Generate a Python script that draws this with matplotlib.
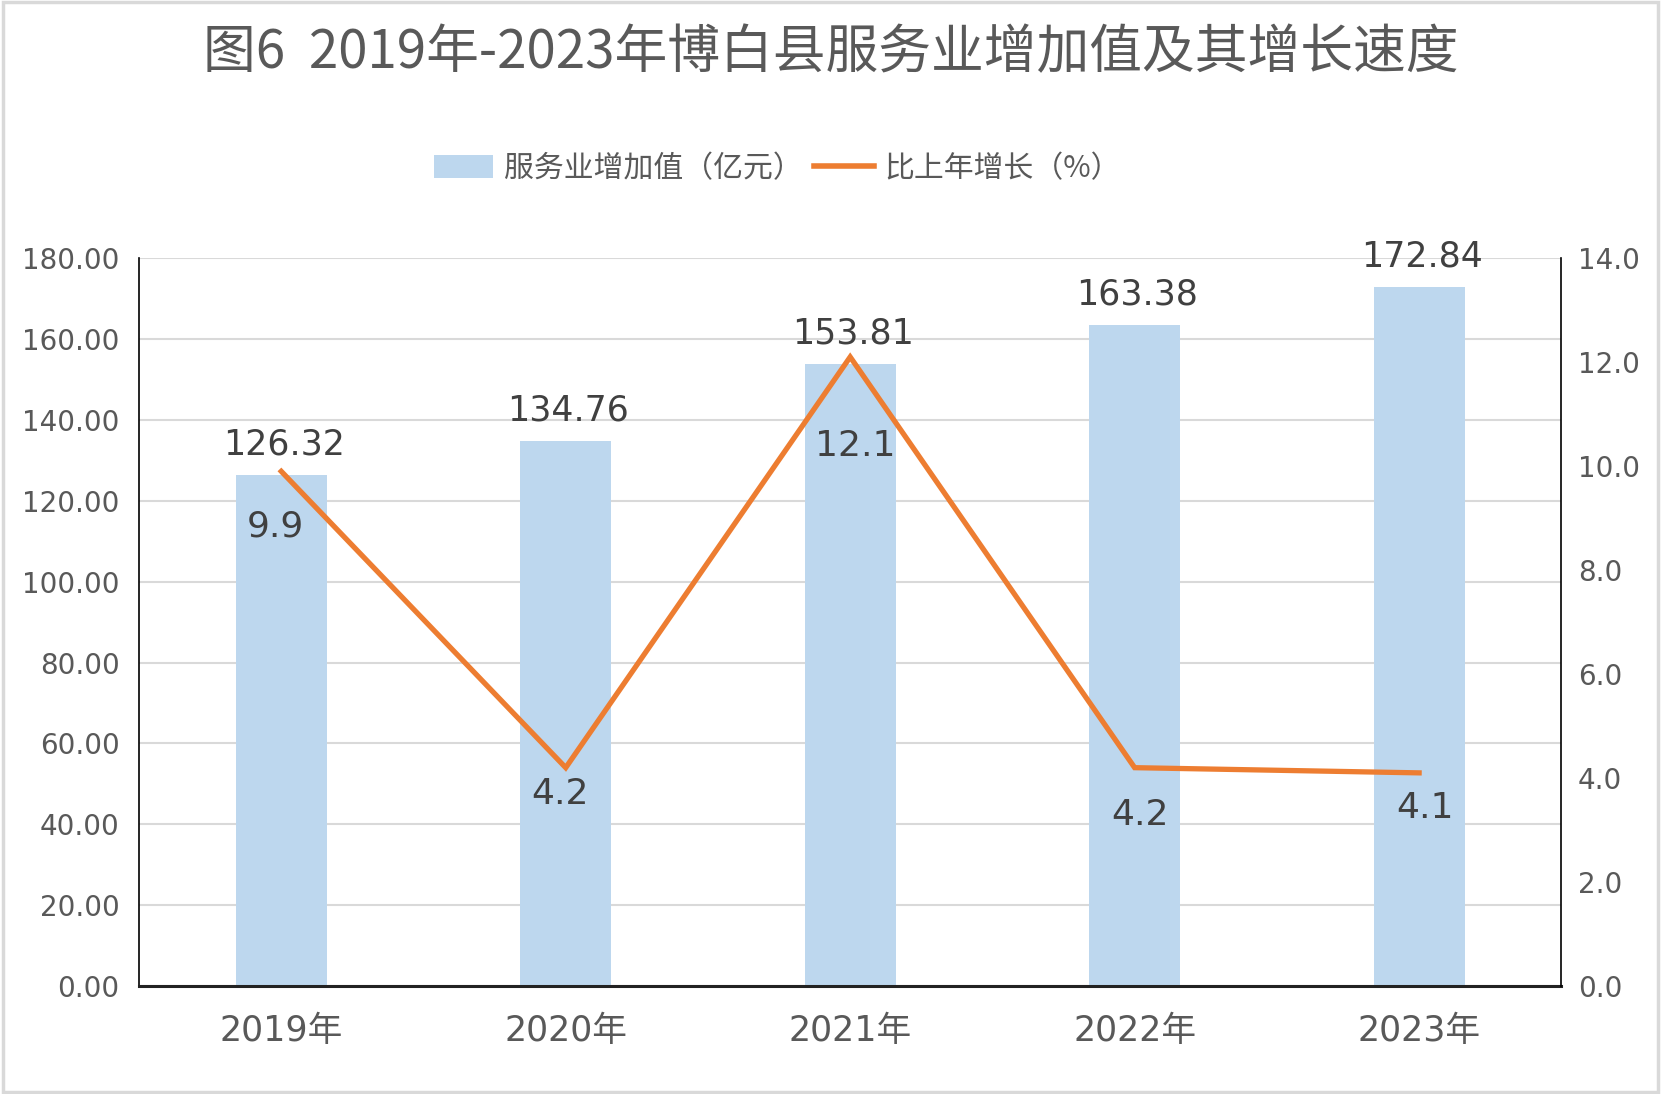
import matplotlib
matplotlib.use("Agg")
import matplotlib.pyplot as plt
from matplotlib.patches import Rectangle, Patch
from matplotlib.lines import Line2D
from matplotlib.ticker import FormatStrFormatter, MultipleLocator

plt.rcParams['font.family'] = ['DejaVu Sans', 'Noto Sans CJK SC']

years = ["2019年", "2020年", "2021年", "2022年", "2023年"]
value_added = [126.32, 134.76, 153.81, 163.38, 172.84]
growth = [9.9, 4.2, 12.1, 4.2, 4.1]
title = "图6  2019年-2023年博白县服务业增加值及其增长速度"
bar_name = "服务业增加值（亿元）"
line_name = "比上年增长（%）"

# label offsets (points) for the growth labels, styling only
growth_label_offsets = [(-4, -40), (-4, -19), (4, -64), (4, -34), (4, -25)]

BAR_C = "#BDD7EE"
LINE_C = "#ED7D31"
TXT = "#404040"
TICK = "#595959"

fig = plt.figure(figsize=(16.61, 10.94), dpi=100)
fig.patch.set_facecolor("white")
fig.add_artist(Rectangle((0.002, 0.002), 0.996, 0.996, transform=fig.transFigure,
                         fill=False, edgecolor="#D9D9D9", linewidth=2.5))

ax = fig.add_axes([0.0837, 0.0987, 0.8563, 0.6653])
x = list(range(len(years)))
ax.bar(x, value_added, width=0.32, color=BAR_C, zorder=2)
ax.set_xlim(-0.5, len(years) - 0.5)
ax.set_ylim(0, 180)
ax.yaxis.set_major_locator(MultipleLocator(20))
ax.yaxis.set_major_formatter(FormatStrFormatter("%.2f"))
ax.grid(axis="y", color="#D9D9D9", linewidth=1.5, zorder=0)
ax.set_axisbelow(True)
ax.set_xticks(x)
ax.set_xticklabels(years, fontsize=25, color=TICK)
ax.tick_params(axis="x", length=0, pad=20)
ax.tick_params(axis="y", labelsize=20, colors=TICK, length=0, pad=14)
ax.spines["top"].set_visible(False)
ax.spines["left"].set_color("black")
ax.spines["left"].set_linewidth(1.2)
ax.spines["right"].set_visible(False)
ax.spines["bottom"].set_color("#222222")
ax.spines["bottom"].set_linewidth(2.2)

for xi, v in zip(x, value_added):
    ax.annotate(f"{v:.2f}", (xi, v), xytext=(2, 22), textcoords="offset points",
                ha="center", va="center", fontsize=25, color=TXT, zorder=5)

ax2 = ax.twinx()
ax2.set_ylim(0, 14)
ax2.yaxis.set_major_locator(MultipleLocator(2))
ax2.yaxis.set_major_formatter(FormatStrFormatter("%.1f"))
ax2.tick_params(axis="y", labelsize=20, colors=TICK, length=0, pad=12)
ax2.plot(x, growth, color=LINE_C, linewidth=3.8, solid_joinstyle="miter", zorder=4)
ax2.spines["top"].set_visible(False)
ax2.spines["left"].set_visible(False)
ax2.spines["bottom"].set_visible(False)
ax2.spines["right"].set_color("black")
ax2.spines["right"].set_linewidth(1.2)
for xi, g, off in zip(x, growth, growth_label_offsets):
    ax2.annotate(f"{g:.1f}", (xi, g), xytext=off, textcoords="offset points",
                 ha="center", va="center", fontsize=26, color=TXT, zorder=5)

fig.text(0.5, 0.952, title, ha="center", va="center", fontsize=38, color=TICK,
         family=['Noto Sans CJK SC', 'DejaVu Sans'])

handles = [Patch(facecolor=BAR_C, edgecolor="none"),
           Line2D([0], [0], color=LINE_C, linewidth=4)]
leg = fig.legend(handles, [bar_name, line_name], loc="center", bbox_to_anchor=(0.468, 0.846),
                 ncol=2, frameon=False, handlelength=2.0, handleheight=0.8,
                 columnspacing=0.4, handletextpad=0.35,
                 prop={'family': ['Noto Sans CJK SC', 'DejaVu Sans'], 'size': 21.5})
for t in leg.get_texts():
    t.set_color(TICK)

fig.savefig("out.png", dpi=100, facecolor="white")
